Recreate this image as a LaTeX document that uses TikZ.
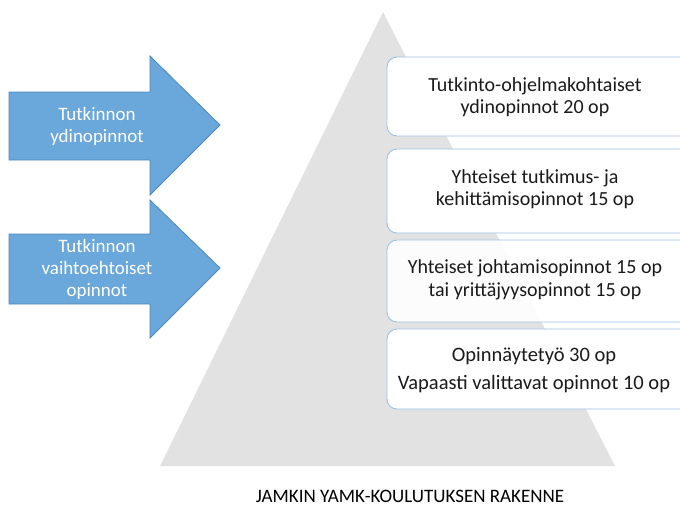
\documentclass[tikz,border=0pt]{standalone}
\usepackage{fontspec}
\setmainfont{Carlito}
\definecolor{arrowfill}{HTML}{6AA7DA}
\definecolor{arrowline}{HTML}{4F87BA}
\definecolor{boxline}{HTML}{9CC2E5}
\definecolor{pyr}{HTML}{E2E2E2}
\definecolor{txt}{HTML}{1A1A1A}
\tikzset{
  bigarrow/.style={fill=arrowfill, draw=arrowline, line width=0.8pt, line join=miter},
  arrowtext/.style={text=white, font=\fontsize{19}{22}\selectfont, align=center},
  levelbox/.style={fill=white, draw=boxline, line width=0.9pt, rounded corners=10pt},
  leveltext/.style={text=txt, font=\fontsize{20}{22.5}\selectfont, align=center},
}
\begin{document}
\begin{tikzpicture}[x=1pt,y=-1pt]
\useasboundingbox (0,0) rectangle (680,507);
\begin{scope}
\clip (0,0) rectangle (680,507);
% pyramid
\fill[pyr] (383,12) -- (615,466) -- (160,466) -- cycle;
% arrows
\draw[bigarrow] (9,92) -- (150,92) -- (150,56) -- (220,125) -- (150,195) -- (150,160) -- (9,160) -- cycle;
\draw[bigarrow] (9,234) -- (150,234) -- (150,200) -- (220,268) -- (150,338) -- (150,304) -- (9,304) -- cycle;
\node[arrowtext] (a1) at (97,126) {Tutkinnon\\ydinopinnot};
\node[arrowtext] (a2) at (97,269) {Tutkinnon\\vaihtoehtoiset\\opinnot};
% boxes
\draw[levelbox] (387,57) rectangle (690,136);
\draw[levelbox] (387,149) rectangle (690,233);
\draw[levelbox, fill opacity=0.9] (387,240) rectangle (690,322);
\draw[levelbox] (387,329) rectangle (690,409);
\end{scope}
\node[leveltext] (b1) at (535,97) {Tutkinto-ohjelmakohtaiset\\ydinopinnot 20 op};
\node[leveltext] (b2) at (535,189) {Yhteiset tutkimus- ja\\kehittämisopinnot 15 op};
\node[leveltext] (b3) at (535,280) {Yhteiset johtamisopinnot 15 op\\tai yrittäjyysopinnot 15 op};
\node[leveltext, font=\fontsize{20.5}{28}\selectfont] (b4) at (534,370) {Opinnäytetyö 30 op\\Vapaasti valittavat opinnot 10 op};
\node[text=black, font=\fontsize{19}{22}\selectfont] (cap) at (410,496) {JAMKIN YAMK-KOULUTUKSEN RAKENNE};
\end{tikzpicture}
\end{document}
